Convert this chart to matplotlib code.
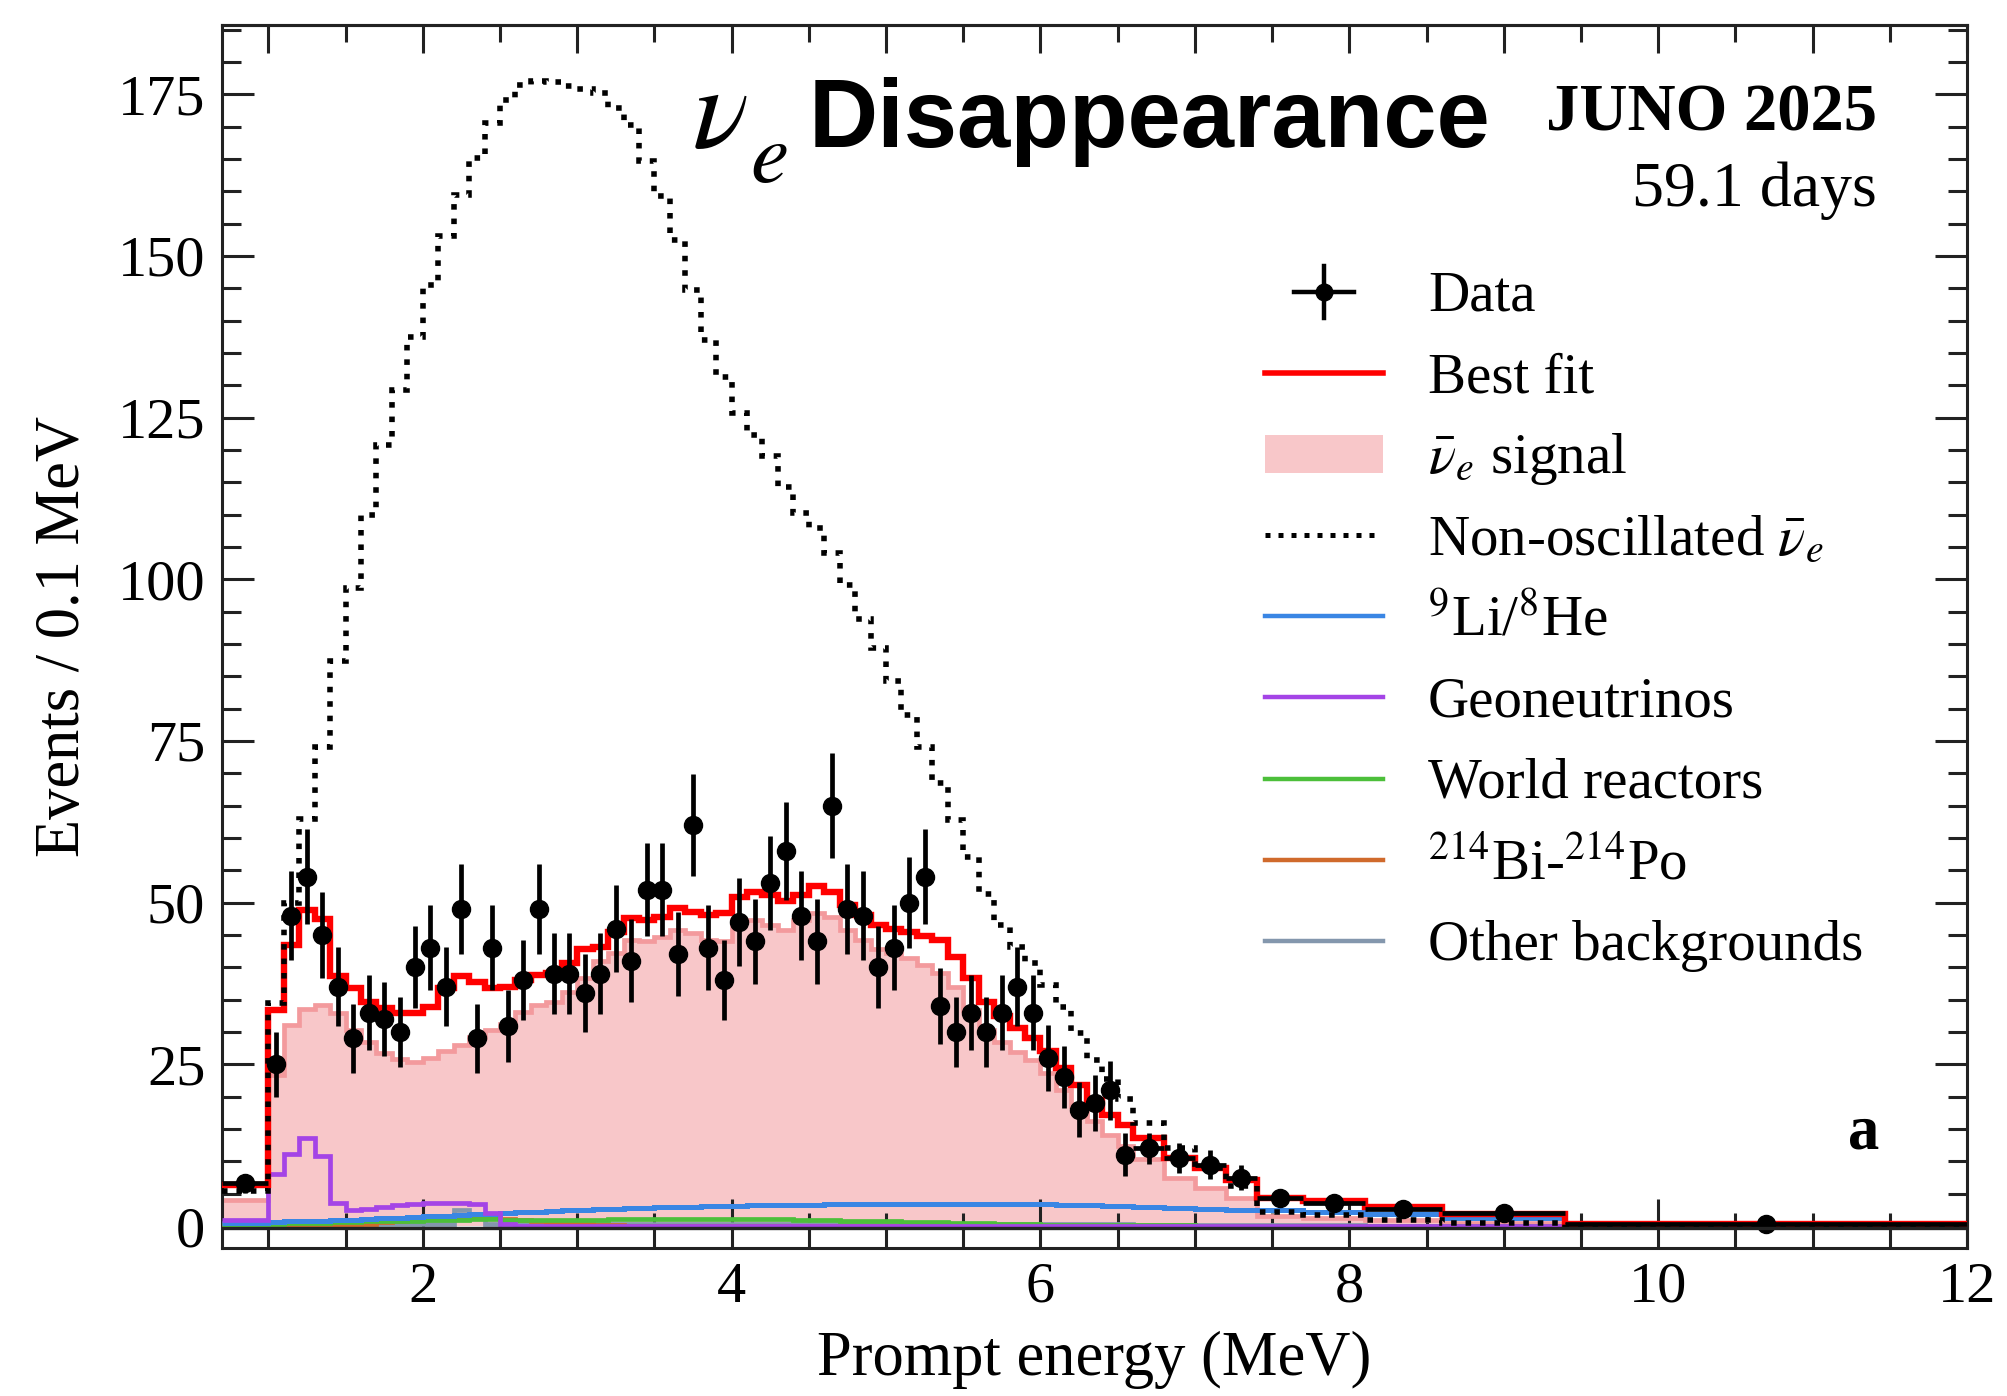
import numpy as np
import matplotlib.pyplot as plt
from matplotlib.ticker import MultipleLocator
from matplotlib.patches import Rectangle

plt.rcParams['font.family'] = ['Liberation Serif', 'DejaVu Serif']
plt.rcParams['mathtext.fontset'] = 'stix'

# bin edges in MeV: one wide bin, 0.1 MeV bins, then wider tail bins
edges = np.array([0.7] + list(np.round(np.arange(1.0, 6.65, 0.1), 1))
                 + [6.8, 7.0, 7.2, 7.4, 7.7, 8.1, 8.6, 9.4, 12.0])

# events / 0.1 MeV
data = [6.6,
        25, 48, 54, 45, 37, 29, 33, 32, 30, 40,
        43, 37, 49, 29, 43, 31, 38, 49, 39, 39,
        36, 39, 46, 41, 52, 52, 42, 62, 43, 38,
        47, 44, 53, 58, 48, 44, 65, 49, 48, 40,
        43, 50, 54, 34, 30, 33, 30, 33, 37, 33,
        26, 23, 18, 19, 21, 11,
        12, 10.5, 9.5, 7.5,
        4.3, 3.5, 2.6, 2.0, 0.3]

best_fit = [6.3,
            33.4, 43.5, 48.8, 47.5, 38.7, 36.8, 34.7, 33.7, 32.9, 32.9,
            33.9, 36.8, 38.7, 37.8, 36.8, 37.0, 38.0, 38.8, 39.1, 40.6,
            42.8, 43.2, 45.5, 47.6, 47.3, 47.8, 49.1, 48.6, 48.1, 48.4,
            50.9, 51.7, 51.2, 50.2, 51.2, 52.5, 51.7, 49.6, 48.1, 46.5,
            46.0, 45.4, 44.8, 44.2, 41.6, 38.3, 34.7, 32.4, 30.6, 29.0,
            27.0, 24.4, 21.8, 19.5, 17.2, 15.6,
            13.6, 10.5, 8.9, 7.1,
            4.3, 3.8, 2.9, 1.9, 0.3]

signal = [4.0,
          23.3, 31.1, 33.5, 34.2, 32.9, 30.3, 28.5, 26.7, 25.8, 25.4,
          25.9, 27.0, 28.0, 29.3, 30.3, 31.3, 33.1, 34.2, 34.7, 36.2,
          38.3, 40.9, 42.2, 44.2, 44.0, 44.7, 45.8, 45.3, 44.2, 44.0,
          47.3, 47.3, 46.5, 45.8, 47.3, 48.4, 47.8, 45.8, 44.2, 42.9,
          42.2, 41.4, 40.3, 39.1, 37.0, 33.4, 30.3, 28.5, 26.9, 25.6,
          23.6, 21.1, 18.6, 16.3, 14.0, 12.4,
          10.4, 7.5, 5.9, 4.3,
          1.6, 1.3, 0.9, 0.5, 0.1]

non_osc = [5.4,
           34.5, 50.0, 63.0, 74.1, 87.3, 98.6, 109.9, 120.8, 129.3, 137.5,
           145.5, 153.0, 159.4, 165.1, 170.5, 174.1, 176.4, 177.1, 176.9, 176.3,
           175.8, 175.2, 172.8, 170.2, 164.6, 159.2, 152.5, 144.7, 137.0, 131.3,
           125.7, 122.3, 119.0, 114.3, 110.2, 107.9, 104.0, 99.1, 93.8, 89.3,
           84.2, 79.0, 74.0, 68.5, 62.8, 57.1, 51.3, 46.5, 43.2, 40.7,
           37.3, 33.8, 29.8, 25.7, 22.7, 19.7,
           15.9, 12.0, 8.9, 6.2,
           2.2, 1.7, 0.9, 0.4, 0.05]

li_he = [0.4,
         0.6, 0.7, 0.8, 0.85, 0.9, 1.0, 1.1, 1.2, 1.3, 1.4,
         1.5, 1.6, 1.7, 1.8, 1.9, 2.0, 2.1, 2.2, 2.3, 2.4,
         2.5, 2.6, 2.7, 2.75, 2.8, 2.9, 2.95, 3.0, 3.05, 3.1,
         3.15, 3.2, 3.2, 3.25, 3.3, 3.3, 3.35, 3.35, 3.4, 3.4,
         3.4, 3.45, 3.45, 3.45, 3.45, 3.45, 3.45, 3.4, 3.4, 3.35,
         3.35, 3.3, 3.25, 3.2, 3.15, 3.1,
         3.0, 2.85, 2.7, 2.55,
         2.4, 2.2, 1.8, 1.2, 0.15]

geo = [1.0,
       8.1, 11.1, 13.6, 10.8, 3.5, 2.5, 2.7, 3.0, 3.2, 3.4,
       3.5, 3.5, 3.5, 3.4, 2.0, 0.3, 0, 0, 0, 0,
       0, 0, 0, 0, 0, 0, 0, 0, 0, 0,
       0, 0, 0, 0, 0, 0, 0, 0, 0, 0,
       0, 0, 0, 0, 0, 0, 0, 0, 0, 0,
       0, 0, 0, 0, 0, 0,
       0, 0, 0, 0,
       0, 0, 0, 0, 0]

world = [0.1,
         0.3, 0.4, 0.45, 0.5, 0.55, 0.6, 0.7, 0.75, 0.8, 0.85,
         0.9, 0.95, 1.0, 1.05, 1.05, 1.0, 1.0, 0.95, 0.95, 0.95,
         1.0, 1.0, 1.05, 1.1, 1.1, 1.15, 1.15, 1.15, 1.15, 1.15,
         1.15, 1.1, 1.1, 1.05, 1.0, 0.95, 0.9, 0.85, 0.8, 0.75,
         0.7, 0.65, 0.6, 0.55, 0.5, 0.45, 0.4, 0.35, 0.3, 0.25,
         0.22, 0.2, 0.17, 0.15, 0.13, 0.11,
         0.1, 0.08, 0.06, 0.05,
         0.04, 0.03, 0.02, 0.01, 0.0]

bipo = [0.05,
        0.1, 0.1, 0.1, 0.1, 0.15, 0.2, 0.35, 0.6, 0.85, 1.0,
        1.1, 1.2, 1.3, 1.3, 1.25, 1.15, 1.0, 0.85, 0.65, 0.45,
        0.3, 0.2, 0.1, 0.05, 0, 0, 0, 0, 0, 0,
        0, 0, 0, 0, 0, 0, 0, 0, 0, 0,
        0, 0, 0, 0, 0, 0, 0, 0, 0, 0,
        0, 0, 0, 0, 0, 0,
        0, 0, 0, 0,
        0, 0, 0, 0, 0]

other = [0.3,
         0.3, 0.3, 0.3, 0.3, 0.3, 0.3, 0.3, 0.3, 0.3, 0.3,
         0.3, 0.3, 2.4, 1.2, 0.3, 0.3, 0.3, 0.3, 0.3, 0.3,
         0.25, 0.25, 0.25, 0.25, 0.25, 0.25, 0.25, 0.25, 0.25, 0.25,
         0.25, 0.25, 0.25, 0.25, 0.25, 0.25, 0.25, 0.25, 0.25, 0.25,
         0.25, 0.25, 0.25, 0.25, 0.25, 0.25, 0.25, 0.25, 0.25, 0.25,
         0.25, 0.25, 0.25, 0.25, 0.25, 0.25,
         0.2, 0.2, 0.2, 0.2,
         0.15, 0.1, 0.05, 0.03, 0.02]

data = np.array(data)
widths = np.diff(edges)
centers = 0.5 * (edges[:-1] + edges[1:])
# Poisson errors, rescaled to events / 0.1 MeV
errors = np.sqrt(data * 0.1 / widths)

c_pink = '#f8c7c9'
c_pink_edge = '#f39a9d'
c_lihe = '#3a86e4'
c_geo = '#a444e6'
c_world = '#4cbf3a'
c_bipo = '#d06a2c'
c_other = '#8497ad'
dots = (0, (1, 1.6))

fig = plt.figure(figsize=(20.08, 13.96), dpi=100)
ax = fig.add_axes([0.11056, 0.10602, 0.86902, 0.87607])

ax.stairs(signal, edges, fill=True, color=c_pink, zorder=1)
ax.stairs(signal, edges, color=c_pink_edge, lw=3.4, baseline=None, zorder=2)
ax.stairs(other, edges, color=c_other, lw=3.4, baseline=None, zorder=3)
ax.stairs(bipo, edges, color=c_bipo, lw=3.4, baseline=None, zorder=3)
ax.stairs(world, edges, color=c_world, lw=3.4, baseline=None, zorder=3)
ax.stairs(li_he, edges, color=c_lihe, lw=3.6, baseline=None, zorder=3)
ax.stairs(geo, edges, color=c_geo, lw=3.4, baseline=None, zorder=3)
ax.stairs(best_fit, edges, color='#ff0000', lw=4.6, baseline=None, zorder=4)
ax.stairs(non_osc, edges, color='black', lw=4.0, linestyle=dots,
          baseline=None, zorder=5)
ax.errorbar(centers, data, xerr=widths / 2, yerr=errors, fmt='o', color='black',
            ms=13, elinewidth=3.4, capsize=0, zorder=6)

# frame line of the histogram area
ax.axhline(-0.3, color='#222222', lw=2.4, zorder=7)

ax.set_xlim(0.7, 12)
ax.set_ylim(-3.4, 185.7)

for s in ax.spines.values():
    s.set_color('#222222')
    s.set_linewidth(2.2)

ax.xaxis.set_major_locator(MultipleLocator(2))
ax.xaxis.set_minor_locator(MultipleLocator(0.5))
ax.yaxis.set_major_locator(MultipleLocator(25))
ax.yaxis.set_minor_locator(MultipleLocator(5))
ax.tick_params(axis='x', which='both', direction='in', top=False, width=2.2,
               labelsize=42, pad=10, colors='#222222', labelcolor='black')
ax.tick_params(axis='x', which='major', length=35)
ax.tick_params(axis='x', which='minor', length=25)
ax.tick_params(axis='y', which='both', direction='in', left=True, right=True,
               width=2.2, labelsize=42, pad=12, colors='#222222', labelcolor='black')
ax.tick_params(axis='y', which='major', length=23)
ax.tick_params(axis='y', which='minor', length=14)

top = ax.secondary_xaxis('top')
top.xaxis.set_major_locator(MultipleLocator(1))
top.xaxis.set_minor_locator(MultipleLocator(0.5))
top.tick_params(which='both', direction='in', labeltop=False, width=2.2, colors='#222222')
top.tick_params(which='major', length=20)
top.tick_params(which='minor', length=12)
top.spines['top'].set_linewidth(2.2)
top.spines['top'].set_color('#222222')

ax.set_xlabel('Prompt energy (MeV)', fontsize=45)
ax.xaxis.set_label_coords(0.5, -0.068)
ax.set_ylabel('Events / 0.1 MeV', fontsize=45)
ax.yaxis.set_label_coords(-0.074, 0.5)

# titles
nu = ax.text(0.2695, 0.9005, r'$\nu$', fontsize=84, transform=ax.transAxes,
             ha='left', va='baseline')
fig.canvas.draw()
nu_right = ax.transAxes.inverted().transform(
    (nu.get_window_extent().x1, 0))[0]
ax.text(nu_right + 0.001, 0.8716, r'$e$', fontsize=62, transform=ax.transAxes,
        ha='left', va='baseline')
ax.text(0.3364, 0.9005, 'Disappearance', fontsize=69, fontweight='bold',
        family='Liberation Sans', transform=ax.transAxes, ha='left', va='baseline')
ax.text(0.9484, 0.9141, 'JUNO 2025', fontsize=48, fontweight='bold',
        transform=ax.transAxes, ha='right', va='baseline')
ax.text(0.9484, 0.852, '59.1 days', fontsize=46, transform=ax.transAxes,
        ha='right', va='baseline')
ax.text(0.950, 0.081, 'a', fontsize=45, fontweight='bold', transform=ax.transAxes,
        ha='right', va='baseline')

# legend, drawn by hand in axes coordinates
labels = ['Data', 'Best fit', r'$\bar{\nu}_e$ signal', r'Non-oscillated $\bar{\nu}_e$',
          r'$^{9}$Li/$^{8}$He', 'Geoneutrinos', 'World reactors',
          r'$^{214}$Bi-$^{214}$Po', 'Other backgrounds']
hx0, hx1, tx = 0.5977, 0.6653, 0.6911
row0, pitch = (1248 - 292) / 1223, 81.1 / 1223
kw = dict(transform=ax.transAxes, clip_on=False)
for i, lab in enumerate(labels):
    y = row0 - i * pitch
    ax.text(tx, y - 0.0155, lab, fontsize=41, transform=ax.transAxes,
            ha='left', va='baseline')
    if i == 0:
        xc = (hx0 + hx1) / 2
        ax.plot([xc - 0.0172, xc + 0.0172], [y, y], color='black', lw=3.2, **kw)
        ax.plot([xc, xc], [y - 0.0213, y + 0.0213], color='black', lw=3.2, **kw)
        ax.plot([xc], [y], 'o', color='black', ms=12, **kw)
    elif i == 1:
        ax.plot([hx0, hx1], [y, y], color='#ff0000', lw=4.0, **kw)
    elif i == 2:
        ax.add_patch(Rectangle((hx0, y - 0.0155), hx1 - hx0, 0.031,
                               facecolor=c_pink, edgecolor='none', **kw))
    elif i == 3:
        ax.plot([hx0, hx1 - 0.004], [y, y], color='black', lw=3.6,
                linestyle=dots, **kw)
    else:
        col = [c_lihe, c_geo, c_world, c_bipo, c_other][i - 4]
        ax.plot([hx0, hx1], [y, y], color=col, lw=3.2, **kw)

fig.savefig('out.png', dpi=100)
